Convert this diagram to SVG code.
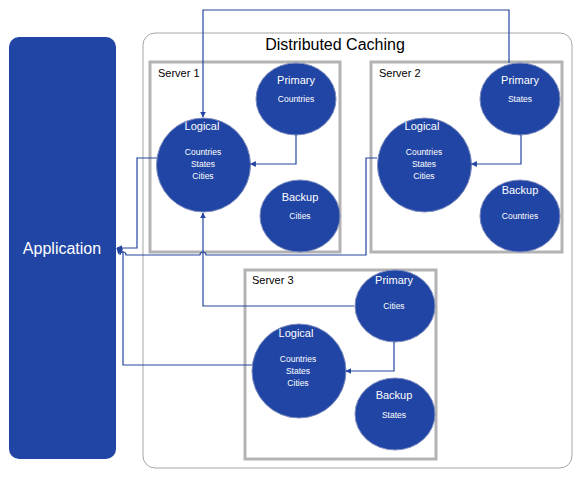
<svg xmlns="http://www.w3.org/2000/svg" width="582" height="477" viewBox="0 0 582 477">
<style>
text{font-family:"Liberation Sans",Arial,sans-serif;text-anchor:middle}
.w{fill:#fff}
.big{font-size:11px}
.sm{font-size:8.5px}
.srv{fill:#fff;stroke:#b3b3b3;stroke-width:3}
.node{fill:#2145a5;stroke:#7d8cbd;stroke-width:1}
.lbl{font-size:11px;fill:#000;text-anchor:start}
.c{fill:none;stroke:#2446a0;stroke-width:1.2}
</style>
<defs>
<marker id="ah" viewBox="0 0 10 10" refX="9" refY="5" markerWidth="6" markerHeight="6" orient="auto" markerUnits="userSpaceOnUse">
<path d="M0,0 L10,5 L0,10 z" fill="#2446a0"/>
</marker>
</defs>
<rect width="582" height="477" fill="#fff"/>
<g id="application">
<rect x="9" y="37" width="107" height="422" rx="10" fill="#2145a5"/>
<text x="62" y="254" class="w" font-size="16">Application</text>
</g>
<g id="cache">
<rect x="143" y="33" width="429" height="435" rx="12" fill="#fff" stroke="#a6a6a6" stroke-width="1"/>
<text x="335" y="50" font-size="16" fill="#000">Distributed Caching</text>
</g>
<g id="server1">
<rect x="150" y="62" width="190" height="190" class="srv"/>
<text x="158" y="77" class="lbl">Server 1</text>
</g>
<g id="server2">
<rect x="371" y="62" width="191" height="190" class="srv"/>
<text x="379" y="77" class="lbl">Server 2</text>
</g>
<g id="server3">
<rect x="245" y="270" width="191" height="189" class="srv"/>
<text x="252" y="284" class="lbl">Server 3</text>
</g>
<g id="s1-logical">
<circle cx="203.5" cy="165" r="47" class="node"/>
<text x="202" y="130" class="w big">Logical</text>
<text x="203" y="155" class="w sm">Countries</text>
<text x="203" y="167" class="w sm">States</text>
<text x="203" y="179" class="w sm">Cities</text>
</g>
<g id="s1-primary">
<ellipse cx="296" cy="99" rx="40" ry="36" class="node"/>
<text x="296" y="84" class="w big">Primary</text>
<text x="296" y="102" class="w sm">Countries</text>
</g>
<g id="s1-backup">
<ellipse cx="300" cy="216" rx="40" ry="36" class="node"/>
<text x="300" y="201" class="w big">Backup</text>
<text x="300" y="219" class="w sm">Cities</text>
</g>
<g id="s2-logical">
<circle cx="424.5" cy="165" r="47" class="node"/>
<text x="422" y="130" class="w big">Logical</text>
<text x="424" y="155" class="w sm">Countries</text>
<text x="424" y="167" class="w sm">States</text>
<text x="424" y="179" class="w sm">Cities</text>
</g>
<g id="s2-primary">
<ellipse cx="520" cy="99" rx="40" ry="36" class="node"/>
<text x="520" y="84" class="w big">Primary</text>
<text x="520" y="102" class="w sm">States</text>
</g>
<g id="s2-backup">
<ellipse cx="520" cy="216" rx="40" ry="36" class="node"/>
<text x="520" y="194" class="w big">Backup</text>
<text x="520" y="219" class="w sm">Countries</text>
</g>
<g id="s3-logical">
<circle cx="299" cy="371" r="47" class="node"/>
<text x="296" y="337" class="w big">Logical</text>
<text x="298" y="362" class="w sm">Countries</text>
<text x="298" y="374" class="w sm">States</text>
<text x="298" y="386" class="w sm">Cities</text>
</g>
<g id="s3-primary">
<ellipse cx="395" cy="306" rx="40" ry="36" class="node"/>
<text x="394" y="284" class="w big">Primary</text>
<text x="394" y="309" class="w sm">Cities</text>
</g>
<g id="s3-backup">
<ellipse cx="395" cy="414" rx="40" ry="36" class="node"/>
<text x="394" y="399" class="w big">Backup</text>
<text x="394" y="418" class="w sm">States</text>
</g>
<g id="connectors">
<path class="c" d="M509,63 V10 H203 V117" marker-end="url(#ah)"/>
<path class="c" d="M296,135 V164 H250.5" marker-end="url(#ah)"/>
<path class="c" d="M521,135 V164 H471.5" marker-end="url(#ah)"/>
<path class="c" d="M394,342 V371 H346" marker-end="url(#ah)"/>
<path class="c" d="M157,158 H137 V248 H117" marker-end="url(#ah)"/>
<path class="c" d="M377,158 H366 V255 H206 A3,3 0 0 0 200,255 H126 A3,3 0 0 0 120,255 V252 L117,248.5" marker-end="url(#ah)"/>
<path class="c" d="M252,365 H123 V252 L117,248.5" marker-end="url(#ah)"/>
<path class="c" d="M354,306 H203 V213" marker-end="url(#ah)"/>
</g>
</svg>
